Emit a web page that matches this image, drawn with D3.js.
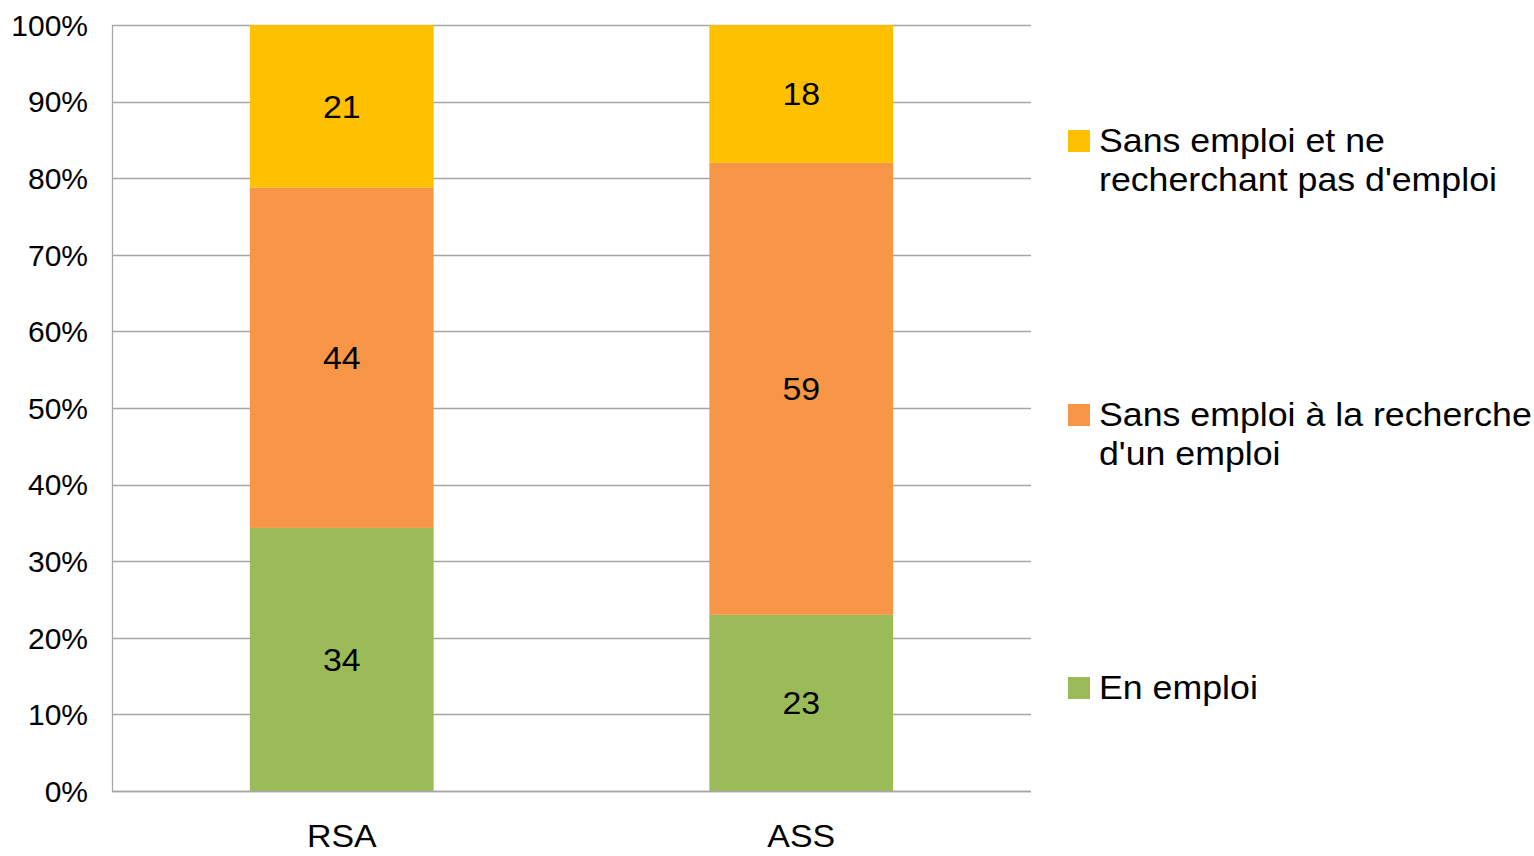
<!DOCTYPE html>
<html><head><meta charset="utf-8">
<script src="https://cdn.jsdelivr.net/npm/d3@7"></script>
<style>body{margin:0;background:#fff}svg{display:block;font-family:"Liberation Sans",Arial,sans-serif}</style>
</head><body><svg id="c" width="1534" height="856"></svg>
<script>
const categories = ["RSA", "ASS"];
const seriesNames = ["En emploi", "Sans emploi à la recherche d'un emploi", "Sans emploi et ne recherchant pas d'emploi"];
const enEmploi = [34, 23];
const rechercheEmploi = [44, 59];
const sansRecherche = [21, 18];
const colors = ["#9BBB59", "#F79646", "#FFC000"];
const yTicks = [0, 0.1, 0.2, 0.3, 0.4, 0.5, 0.6, 0.7, 0.8, 0.9, 1];
const legendLines = [["En emploi"], ["Sans emploi à la recherche", "d'un emploi"], ["Sans emploi et ne", "recherchant pas d'emploi"]];

(function () {
const svg = d3.select("#c");
const pL = 112, pR = 1031, pT = 25, pB = 791;
const x = d3.scaleBand().domain(categories).range([pL, pR]).paddingInner(0.6).paddingOuter(0.3);
const y = d3.scaleLinear().domain([0, 1]).range([pB, pT]);

const rows = categories.map((c, i) => ({cat: c, s0: enEmploi[i], s1: rechercheEmploi[i], s2: sansRecherche[i]}));
rows.forEach(r => { const t = r.s0 + r.s1 + r.s2; r.n0 = r.s0 / t; r.n1 = r.s1 / t; r.n2 = r.s2 / t; });
const series = d3.stack().keys(["n0", "n1", "n2"])(rows);

// gridlines
svg.append("g").selectAll("line").data(yTicks).join("line")
  .attr("x1", pL).attr("x2", pR)
  .attr("y1", d => Math.round(y(d)) + 0.5).attr("y2", d => Math.round(y(d)) + 0.5)
  .attr("stroke", "#a6a6a6").attr("stroke-width", 1.3);
// left axis line
svg.append("line").attr("x1", pL + 0.5).attr("x2", pL + 0.5).attr("y1", pT).attr("y2", pB)
  .attr("stroke", "#a6a6a6").attr("stroke-width", 1.3);

// bars
const g = svg.append("g");
series.forEach((s, si) => {
  g.append("g").selectAll("rect").data(s).join("rect")
    .attr("x", d => x(d.data.cat)).attr("width", x.bandwidth())
    .attr("y", d => y(d[1])).attr("height", d => y(d[0]) - y(d[1]))
    .attr("fill", colors[si]);
  const raw = ["s0", "s1", "s2"][si];
  g.append("g").selectAll("text").data(s).join("text")
    .attr("transform", d => `translate(${x(d.data.cat) + x.bandwidth() / 2},${(y(d[0]) + y(d[1])) / 2}) scale(1.06,1)`)
    .attr("dy", "0.36em").attr("text-anchor", "middle")
    .attr("font-size", 32).attr("fill", "#000")
    .text(d => d.data[raw]);
});
// bottom axis line
svg.append("line").attr("x1", pL).attr("x2", pR).attr("y1", pB + 0.5).attr("y2", pB + 0.5)
  .attr("stroke", "#a6a6a6").attr("stroke-width", 1.3);

// y tick labels
svg.append("g").selectAll("text").data(yTicks).join("text")
  .attr("x", 88).attr("y", d => y(d)).attr("dy", "0.36em")
  .attr("text-anchor", "end").attr("font-size", 30).attr("fill", "#000")
  .text(d => d3.format(".0%")(d));

// category labels
svg.append("g").selectAll("text").data(categories).join("text")
  .attr("transform", d => `translate(${x(d) + x.bandwidth() / 2},835) scale(1.06,1)`).attr("dy", "0.36em")
  .attr("text-anchor", "middle").attr("font-size", 32).attr("fill", "#000")
  .text(d => d);

// legend
const legendY = [687, 414, 140];
const lg = svg.append("g");
legendLines.forEach((lines, i) => {
  lg.append("rect").attr("x", 1068).attr("y", legendY[i] - 10).attr("width", 22).attr("height", 22).attr("fill", colors[i]);
  lines.forEach((t, j) => {
    lg.append("text").attr("transform", `translate(1099,${legendY[i] + j * 39}) scale(1.083,1)`).attr("dy", "0.36em")
      .attr("font-size", 33).attr("fill", "#000").text(t);
  });
});
})();
</script></body></html>
